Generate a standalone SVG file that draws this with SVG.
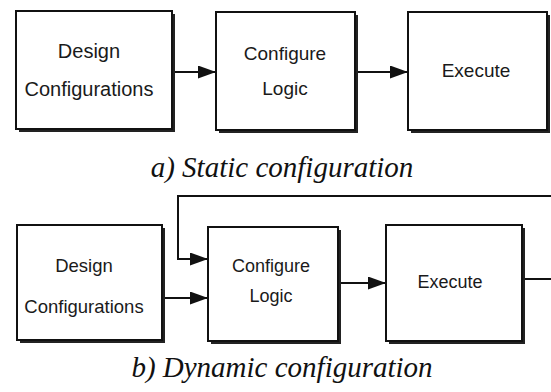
<svg xmlns="http://www.w3.org/2000/svg" width="551" height="392" viewBox="0 0 551 392">
  <defs>
    <marker id="arrow" viewBox="0 0 18 13" refX="18" refY="6.5" markerWidth="18" markerHeight="13" markerUnits="userSpaceOnUse" orient="auto">
      <path d="M0,0 L18,6.5 L0,13 Z" fill="#111"/>
    </marker>
  </defs>
  <style>
    .shadow { fill: #222; }
    .box { fill: #fff; stroke: #111; stroke-width: 2; }
    .label { font-family: "Liberation Sans", Arial, sans-serif; fill: #1a1a1a; text-anchor: middle; }
    .caption { font-family: "Liberation Serif", "Times New Roman", serif; font-style: italic; font-size: 29px; fill: #111; text-anchor: middle; }
    .link { fill: none; stroke: #111; stroke-width: 2; }
  </style>
  <rect width="551" height="392" fill="#fff"/>

  <!-- a) static flow -->
  <g id="static-design">
    <rect class="shadow" x="19" y="14" width="156" height="118"/>
    <rect class="box" x="16" y="11" width="156" height="118"/>
    <text class="label" x="89" y="58" font-size="20">Design</text>
    <text class="label" x="89" y="96" font-size="20">Configurations</text>
  </g>
  <g id="static-configure">
    <rect class="shadow" x="219" y="15" width="139" height="118"/>
    <rect class="box" x="216" y="12" width="139" height="118"/>
    <text class="label" x="285" y="60" font-size="19">Configure</text>
    <text class="label" x="285" y="95" font-size="19">Logic</text>
  </g>
  <g id="static-execute">
    <rect class="shadow" x="411" y="15" width="139" height="118"/>
    <rect class="box" x="408" y="12" width="139" height="118"/>
    <text class="label" x="476" y="77" font-size="19">Execute</text>
  </g>
  <g id="static-links">
    <line class="link" x1="175" y1="72" x2="216" y2="72" marker-end="url(#arrow)"/>
    <line class="link" x1="358" y1="72" x2="408" y2="72" marker-end="url(#arrow)"/>
  </g>
  <text class="caption" x="282" y="177">a) Static configuration</text>

  <!-- b) dynamic flow with feedback loop -->
  <g id="dynamic-design">
    <rect class="shadow" x="20" y="228" width="145" height="115"/>
    <rect class="box" x="17" y="225" width="145" height="115"/>
    <text class="label" x="84" y="272" font-size="18.5">Design</text>
    <text class="label" x="84" y="313" font-size="18.5">Configurations</text>
  </g>
  <g id="dynamic-configure">
    <rect class="shadow" x="211" y="230" width="130" height="114"/>
    <rect class="box" x="208" y="227" width="130" height="114"/>
    <text class="label" x="271" y="272" font-size="18">Configure</text>
    <text class="label" x="271" y="302" font-size="18">Logic</text>
  </g>
  <g id="dynamic-execute">
    <rect class="shadow" x="389" y="228" width="136" height="116"/>
    <rect class="box" x="386" y="225" width="136" height="116"/>
    <text class="label" x="450" y="288" font-size="18">Execute</text>
  </g>
  <g id="dynamic-links">
    <line class="link" x1="165" y1="298" x2="208" y2="298" marker-end="url(#arrow)"/>
    <line class="link" x1="341" y1="283" x2="386" y2="283" marker-end="url(#arrow)"/>
    <path class="link" d="M525,279 H562 V196 H178 V259 H208" marker-end="url(#arrow)"/>
  </g>
  <text class="caption" x="282" y="377">b) Dynamic configuration</text>
</svg>
